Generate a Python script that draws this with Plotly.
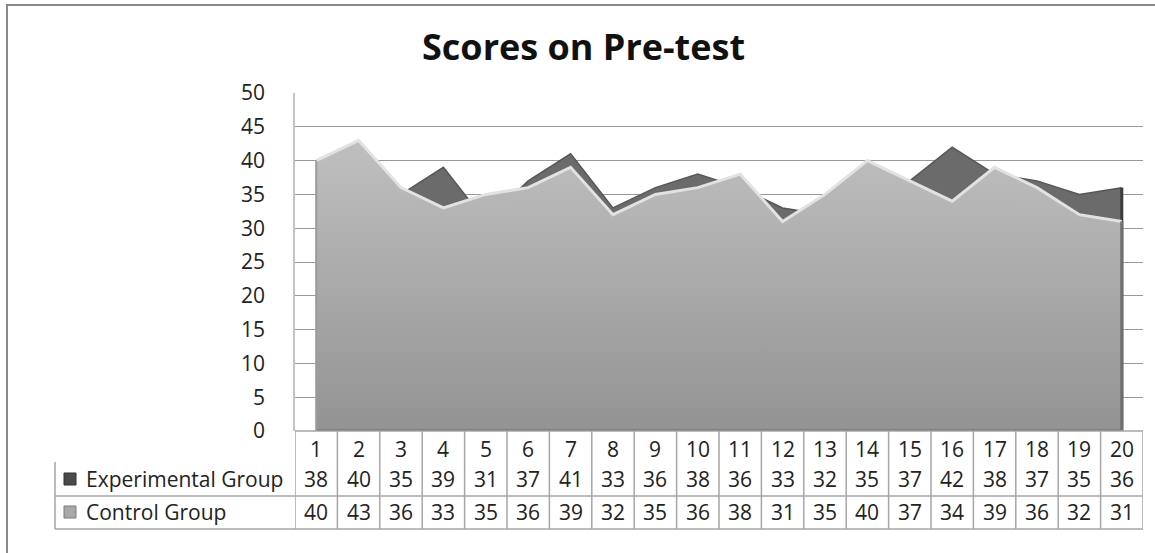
import plotly.graph_objects as go

categories = list(range(1, 21))
experimental = [38, 40, 35, 39, 31, 37, 41, 33, 36, 38, 36, 33, 32, 35, 37, 42, 38, 37, 35, 36]
control = [40, 43, 36, 33, 35, 36, 39, 32, 35, 36, 38, 31, 35, 40, 37, 34, 39, 36, 32, 31]
series_names = ["Experimental Group", "Control Group"]
y_ticks = [0, 5, 10, 15, 20, 25, 30, 35, 40, 45, 50]
title_text = "Scores on Pre-test"

W, H = 1155, 553
PL, PR, PT, PB = 295, 1143, 93, 431
FONT = "Open Sans"


def px_x(p):
    return (p - PL) / (PR - PL)


def px_y(p):
    return (PB - p) / (PB - PT)


fig = go.Figure()

# Experimental group (back series)
fig.add_trace(go.Scatter(
    x=categories, y=experimental, mode="lines", fill="tozeroy",
    fillcolor="#6b6b6b", line=dict(color="#575757", width=1.5),
    showlegend=False, hoverinfo="skip"))
fig.add_trace(go.Scatter(
    x=[categories[-1], categories[-1]], y=[0, experimental[-1]], mode="lines",
    line=dict(color="#3c3c3c", width=3), showlegend=False, hoverinfo="skip"))

# Control group (front series)
fig.add_trace(go.Scatter(
    x=categories, y=control, mode="lines", fill="tozeroy",
    fillgradient=dict(type="vertical", colorscale=[[0, "#939393"], [1, "#bfbfbf"]],
                      start=0, stop=max(control)),
    line=dict(color="rgba(0,0,0,0)", width=0),
    showlegend=False, hoverinfo="skip"))
fig.add_trace(go.Scatter(
    x=categories, y=control, mode="lines",
    line=dict(color="#e2e2e2", width=3), showlegend=False, hoverinfo="skip"))
fig.add_trace(go.Scatter(
    x=[categories[0], categories[-1], categories[-1]], y=[0, 0, control[-1]], mode="lines",
    line=dict(color="#6e6e6e", width=3), showlegend=False, hoverinfo="skip"))
fig.add_trace(go.Scatter(
    x=[categories[0], categories[0]], y=[0, control[0]], mode="lines",
    line=dict(color="#9a9a9a", width=2), showlegend=False, hoverinfo="skip"))

shapes = []
annotations = []

# outer chart border
shapes.append(dict(type="rect", xref="paper", yref="paper",
                   x0=px_x(7), x1=px_x(1170), y0=px_y(570), y1=px_y(5),
                   line=dict(color="#8a8a8a", width=2), fillcolor="rgba(0,0,0,0)", layer="below"))

# data table lines
tbl_color = "#a6a6a6"
row_top, row_mid, row_bot, hdr_bot = 431, 496, 529, 462
for k in range(len(categories) + 1):
    xv = 0.5 + k
    shapes.append(dict(type="line", xref="x", yref="paper", x0=xv, x1=xv,
                       y0=px_y(row_top), y1=px_y(row_bot), line=dict(color=tbl_color, width=1.5)))
for yy in (row_mid, row_bot):
    shapes.append(dict(type="line", xref="paper", yref="paper", x0=px_x(55), x1=1,
                       y0=px_y(yy), y1=px_y(yy), line=dict(color=tbl_color, width=1.5)))
shapes.append(dict(type="line", xref="paper", yref="paper", x0=px_x(55), x1=px_x(55),
                   y0=px_y(hdr_bot), y1=px_y(row_bot), line=dict(color=tbl_color, width=1.5)))
shapes.append(dict(type="line", xref="paper", yref="paper", x0=0, x1=1,
                   y0=0, y1=0, line=dict(color=tbl_color, width=1.5)))

TXT = dict(family=FONT, size=21, color="#222")
# header row
for c in categories:
    annotations.append(dict(x=c, y=px_y(449), xref="x", yref="paper", text=str(c),
                            xanchor="center", yanchor="middle", showarrow=False, font=TXT))
# value rows
rows = [(479, experimental), (512, control)]
for ypix, vals in rows:
    for c, v in zip(categories, vals):
        annotations.append(dict(x=c, y=px_y(ypix), xref="x", yref="paper", text=str(v),
                                xanchor="center", yanchor="middle", showarrow=False, font=TXT))

# legend keys in table
key_colors = [("#4a4a4a", "#303030"), ("#a8a8a8", "#7a7a7a")]
for (ypix, _), name, (fc, lc) in zip(rows, series_names, key_colors):
    shapes.append(dict(type="rect", xref="paper", yref="paper",
                       x0=px_x(64), x1=px_x(76), y0=px_y(ypix + 6), y1=px_y(ypix - 6),
                       fillcolor=fc, line=dict(color=lc, width=1)))
    annotations.append(dict(x=px_x(84), y=px_y(ypix), xref="paper", yref="paper", text=name,
                            xanchor="left", yanchor="middle", showarrow=False, font=TXT))

# title
annotations.append(dict(x=px_x(583), y=px_y(46), xref="paper", yref="paper",
                        text="<b>%s</b>" % title_text, xanchor="center", yanchor="middle",
                        showarrow=False, font=dict(family=FONT, size=36, color="#111")))

fig.update_layout(
    width=W, height=H,
    margin=dict(l=PL, r=W - PR, t=PT, b=H - PB, pad=0),
    paper_bgcolor="white", plot_bgcolor="white",
    shapes=shapes, annotations=annotations,
    xaxis=dict(range=[0.5, len(categories) + 0.5], showticklabels=False, showgrid=False,
               zeroline=False, showline=False, ticks="", fixedrange=True),
    yaxis=dict(range=[0, 50], tickvals=y_ticks, showgrid=True, gridcolor="#9a9a9a", gridwidth=1.2,
               zeroline=False, showline=True, linecolor="#c4c4c4", linewidth=1.5,
               ticks="", ticklabelstandoff=24,
               tickfont=TXT, fixedrange=True),
)

fig.write_html("out.html", config={"displayModeBar": False},
               post_script="document.body.style.margin='0';document.body.style.overflow='hidden';")
